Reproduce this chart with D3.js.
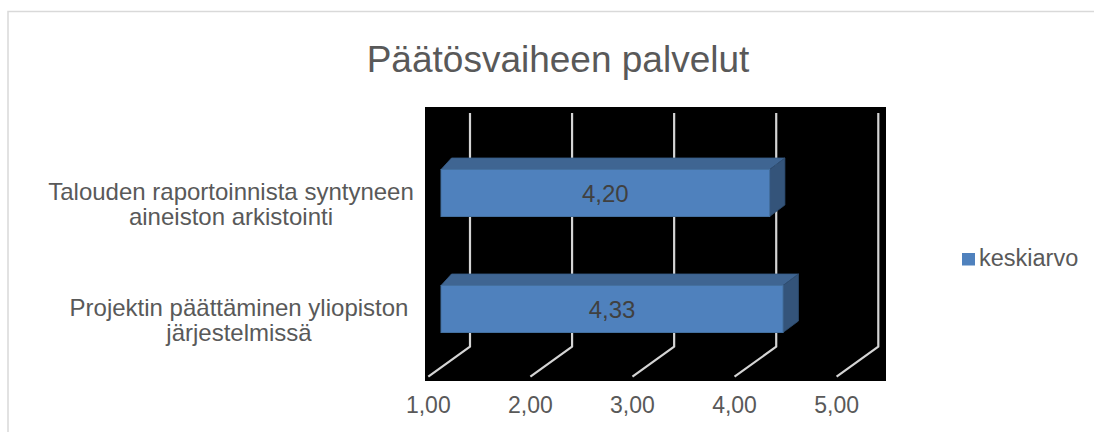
<!DOCTYPE html>
<html>
<head>
<meta charset="utf-8">
<script src="https://cdn.jsdelivr.net/npm/d3@7"></script>
<style>
  html, body { margin: 0; padding: 0; background: #ffffff; }
  svg { display: block; }
  text { font-family: "Liberation Sans", Arial, sans-serif; }
</style>
</head>
<body>
<svg id="chart" width="1094" height="432"></svg>
<script>
// Chart content
const chartTitle = "Päätösvaiheen palvelut";
const categories = [
  ["Talouden raportoinnista syntyneen", "aineiston arkistointi"],
  ["Projektin päättäminen yliopiston", "järjestelmissä"]
];
const seriesName = "keskiarvo";
const values = [4.20, 4.33];
const tickValues = [1, 2, 3, 4, 5];

const fmt = v => d3.format(".2f")(v).replace(".", ",");

const svg = d3.select("#chart");
const W = 1094, H = 432;

// outer chart border
svg.append("rect")
  .attr("x", 8).attr("y", 11.5)
  .attr("width", W + 20).attr("height", H + 20)
  .attr("fill", "#ffffff").attr("stroke", "#d9d9d9").attr("stroke-width", 1.5);

// title
svg.append("text")
  .attr("x", 558).attr("y", 72)
  .attr("text-anchor", "middle")
  .attr("font-size", 37).attr("fill", "#595959")
  .text(chartTitle);

// plot area (black)
svg.append("rect")
  .attr("x", 425).attr("y", 107)
  .attr("width", 461).attr("height", 274)
  .attr("fill", "#000000");

// 3D projection: back wall, floor depth offset, bar plane
const xBack = d3.scaleLinear().domain([1, 5]).range([470, 878.3]);
const depth = { dx: -41.7, dy: 30 };          // back wall -> front edge of floor
const wallTop = 113, wallBottom = 346.7;
const xBar = d3.scaleLinear().domain([1, 5]).range([441, 851.8]);
const yCat = d3.scalePoint().domain(d3.range(categories.length)).range([193, 309]);
const barH = 47;
const topDy = -11.5;
const topDx = x => 10.5 + 0.0145 * (x - xBar(1));

// gridlines: wall verticals + floor diagonals
const grid = svg.append("g")
  .attr("fill", "none").attr("stroke", "#d4d4d4").attr("stroke-width", 2.2)
  .attr("stroke-linejoin", "round");
tickValues.forEach(t => {
  const xb = xBack(t);
  grid.append("path")
    .attr("d", d3.line()([[xb, wallTop], [xb, wallBottom], [xb + depth.dx, wallBottom + depth.dy]]));
});

// axis tick labels at the front floor edge
const xFront = d3.scaleLinear().domain([1, 5])
  .range([xBack(1) + depth.dx, xBack(5) + depth.dx]);
svg.append("g").selectAll("text")
  .data(tickValues).join("text")
  .attr("x", d => xFront(d)).attr("y", 413)
  .attr("text-anchor", "middle")
  .attr("font-size", 23).attr("fill", "#595959")
  .text(d => fmt(d));

// bars
const bars = svg.append("g");
values.forEach((v, i) => {
  const x0 = xBar(1), x1 = xBar(v);
  const yT = yCat(i) - barH / 2, yB = yCat(i) + barH / 2;
  const dl = topDx(x0), dr = topDx(x1);
  const g = bars.append("g");
  // top face
  g.append("path")
    .attr("d", d3.line()([[x0, yT], [x1, yT], [x1 + dr, yT + topDy], [x0 + dl, yT + topDy]]) + "Z")
    .attr("fill", "#3f6592").attr("stroke", "#385d88").attr("stroke-width", 0.8);
  // side face
  g.append("path")
    .attr("d", d3.line()([[x1, yT], [x1 + dr, yT + topDy], [x1 + dr, yB + topDy], [x1, yB]]) + "Z")
    .attr("fill", "#34547a").attr("stroke", "#2f4d70").attr("stroke-width", 0.8);
  // front face
  g.append("rect")
    .attr("x", x0).attr("y", yT)
    .attr("width", x1 - x0).attr("height", barH)
    .attr("fill", "#4f81bd").attr("stroke", "#44709f").attr("stroke-width", 1);
  // value label
  g.append("text")
    .attr("x", (x0 + x1) / 2).attr("y", yCat(i) + 8.5)
    .attr("text-anchor", "middle")
    .attr("font-size", 24).attr("fill", "#404040")
    .text(fmt(v));
});

// category labels (two lines, centred)
const labelCx = [231, 239];
const cat = svg.append("g");
categories.forEach((lines, i) => {
  const t = cat.append("text")
    .attr("text-anchor", "middle")
    .attr("font-size", 24).attr("fill", "#595959");
  lines.forEach((ln, k) => {
    t.append("tspan")
      .attr("x", labelCx[i])
      .attr("y", yCat(i) + 7 + k * 24.5)
      .text(ln);
  });
});

// legend
const lg = svg.append("g");
lg.append("rect")
  .attr("x", 962).attr("y", 253)
  .attr("width", 13).attr("height", 12.5)
  .attr("fill", "#4f81bd");
lg.append("text")
  .attr("x", 979).attr("y", 266)
  .attr("font-size", 23.5).attr("fill", "#595959")
  .text(seriesName);
</script>
</body>
</html>
